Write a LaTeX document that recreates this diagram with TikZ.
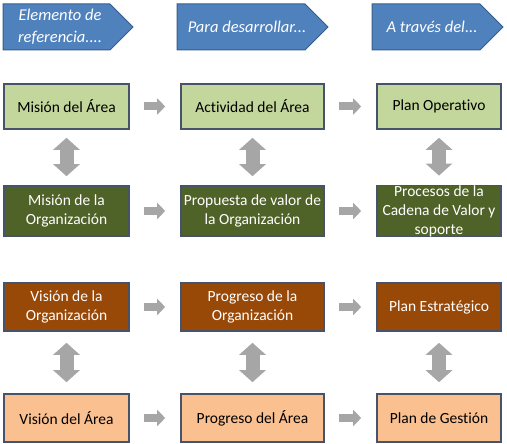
\documentclass[tikz,border=0pt]{standalone}
\usepackage{fontspec}
\setmainfont{Carlito}[Ligatures=NoCommon]
\usetikzlibrary{arrows.meta}
\definecolor{hdrblue}{HTML}{4F81BD}
\definecolor{hdrline}{HTML}{385D8A}
\definecolor{boxline}{HTML}{46536B}
\definecolor{lgreen}{HTML}{C3D69B}
\definecolor{dgreen}{HTML}{4F6228}
\definecolor{brown}{HTML}{984807}
\definecolor{peach}{HTML}{FAC090}
\definecolor{arrgray}{HTML}{A6A6A6}
\begin{document}
\begin{tikzpicture}[x=1pt,y=-1pt,
    header/.style={fill=hdrblue, draw=hdrline, line width=1pt},
    hdrtext/.style={text=white, align=center, inner sep=0pt, font=\fontsize{16.5}{22}\selectfont\itshape},
    box/.style={draw=boxline, line width=1.6pt, align=center, inner sep=0pt, font=\fontsize{15.5}{19}\selectfont},
    rarrow/.style={arrgray, line width=8pt, -{Triangle[length=8pt,width=16pt]}, shorten <=14pt, shorten >=15pt},
    varrow/.style={arrgray, line width=14pt, {Triangle[length=12pt,width=26pt]}-{Triangle[length=12pt,width=26pt]}}]
  \useasboundingbox (0,0) rectangle (507,444);

  % headers
  \draw[header] (3,4) -- (110,4) -- (133,27) -- (110,50) -- (3,50) -- cycle;
  \draw[header] (177,4) -- (305,4) -- (328,27) -- (305,50) -- (177,50) -- cycle;
  \draw[header] (372,4) -- (480,4) -- (503,27) -- (480,50) -- (372,50) -- cycle;
  \node[hdrtext] (h1) at (60,27) {Elemento de\\referencia....};
  \node[hdrtext] (h2) at (247,27) {Para desarrollar...};
  \node[hdrtext] (h3) at (432,27) {A través del...};

  % boxes
  \node[box, fill=lgreen, minimum width=125pt, minimum height=45pt] (m1) at (66.5,106.5) {Misión del Área};
  \node[box, fill=lgreen, minimum width=143pt, minimum height=45pt] (m2) at (252.5,106.5) {Actividad del Área};
  \node[box, fill=lgreen, minimum width=124pt, minimum height=45pt] (m3) at (439,106.5) {Plan Operativo};

  \node[box, fill=dgreen, text=white, minimum width=125pt, minimum height=50pt] (o1) at (66.5,211) {Misión de la\\Organización};
  \node[box, fill=dgreen, text=white, minimum width=143pt, minimum height=50pt] (o2) at (252.5,211) {Propuesta de valor de\\la Organización};
  \node[box, fill=dgreen, text=white, minimum width=124pt, minimum height=50pt] (o3) at (439,211) {Procesos de la\\Cadena de Valor y\\soporte};

  \node[box, fill=brown, text=white, minimum width=125pt, minimum height=48pt] (v1) at (66.5,307) {Visión de la\\Organización};
  \node[box, fill=brown, text=white, minimum width=143pt, minimum height=48pt] (v2) at (252.5,307) {Progreso de la\\Organización};
  \node[box, fill=brown, text=white, minimum width=124pt, minimum height=48pt] (v3) at (439,307) {Plan Estratégico};

  \node[box, fill=peach, minimum width=125pt, minimum height=48pt] (a1) at (66.5,418) {Visión del Área};
  \node[box, fill=peach, minimum width=143pt, minimum height=48pt] (a2) at (252.5,418) {Progreso del Área};
  \node[box, fill=peach, minimum width=124pt, minimum height=48pt] (a3) at (439,418) {Plan de Gestión};

  % arrows
  \draw[rarrow] (m1) -- (m2);
  \draw[rarrow] (m2) -- (m3);
  \draw[rarrow] (o1) -- (o2);
  \draw[rarrow] (o2) -- (o3);
  \draw[rarrow] (v1) -- (v2);
  \draw[rarrow] (v2) -- (v3);
  \draw[rarrow] (a1) -- (a2);
  \draw[rarrow] (a2) -- (a3);

  \draw[varrow, shorten <=8pt, shorten >=9pt] (m1) -- (o1);
  \draw[varrow, shorten <=8pt, shorten >=9pt] (m2) -- (o2);
  \draw[varrow, shorten <=8pt, shorten >=9pt] (m3) -- (o3);
  \draw[varrow, shorten <=11pt, shorten >=11pt] (v1) -- (a1);
  \draw[varrow, shorten <=11pt, shorten >=11pt] (v2) -- (a2);
  \draw[varrow, shorten <=11pt, shorten >=11pt] (v3) -- (a3);
\end{tikzpicture}
\end{document}
